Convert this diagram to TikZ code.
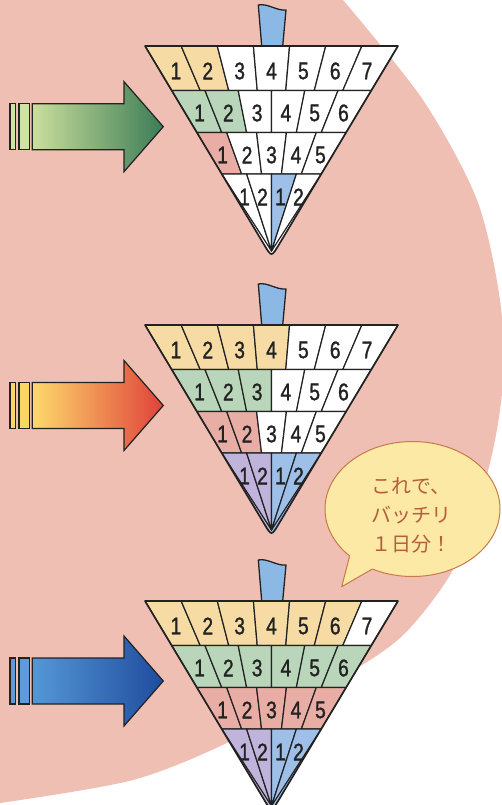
\documentclass[tikz,border=0pt]{standalone}
\usepackage{fontspec}
\usepackage{tikz}
\usetikzlibrary{positioning,shapes.geometric}
\newfontfamily\digitfont[FakeStretch=0.8, FakeBold=1.2]{Liberation Sans}
\newfontfamily\jpfont{Noto Sans CJK JP}
\definecolor{bgpink}{HTML}{EFBFB3}
\definecolor{inkgray}{HTML}{222222}
\definecolor{spinyellow}{HTML}{F7DBA4}
\definecolor{spingreen}{HTML}{B9D5BA}
\definecolor{spinpink}{HTML}{E8ADA4}
\definecolor{spinpurple}{HTML}{C0B3DC}
\definecolor{spinblue}{HTML}{9DBFE8}
\definecolor{stemblue}{HTML}{8CB8E6}
\definecolor{bubblefill}{HTML}{FCE9A6}
\definecolor{bubbleline}{HTML}{C8794C}
\definecolor{bubbleink}{HTML}{B45E3C}
\definecolor{greenlight}{HTML}{CADF9C}
\definecolor{greendark}{HTML}{3C7C56}
\definecolor{greenstripe}{HTML}{CFE4A2}
\definecolor{warmlight}{HTML}{FDD96C}
\definecolor{warmdark}{HTML}{E0423A}
\definecolor{warmstripe}{HTML}{F8D862}
\definecolor{bluelight}{HTML}{5597D6}
\definecolor{bluedark}{HTML}{1F4C9E}
\definecolor{bluestripe}{HTML}{5C9CDA}

\tikzset{
  cell/.style={draw=inkgray, line width=1.2pt, line join=round},
  rim/.style={draw=inkgray, line width=1.7pt, line join=round},
  num/.style={font=\digitfont\fontsize{24}{24}\selectfont, text=inkgray, inner sep=0pt},
  stem/.style={fill=stemblue, draw=inkgray, line width=1.3pt, line join=round},
  arrowrim/.style={draw=inkgray, line width=1.2pt},
  bubble/.style={ellipse, fill=bubblefill, draw=bubbleline, line width=1pt,
    minimum width=175pt, minimum height=135pt, inner sep=0pt},
}

% #1 name, #2 top y, #3-#5 filled cells in rows 1-3, #6-#9 colours of row 4
\newcommand{\spinner}[9]{%
  \begin{scope}[shift={(271.5,#2)}]
    \filldraw[stem] (-13.2,-41) .. controls (-4,-43) and (5,-35) .. (14.5,-36) -- (11.2,0) -- (-9.8,0) -- cycle;
    \begin{scope}
      \clip (-126.5,0) -- (-7.2,199) .. controls (0,211) .. (7.2,199) -- (126.5,0) -- cycle;
      \foreach \ncell/\ytop/\ybot/\nfill/\fcol/\ynum in
        {7/0/44.5/#3/spinyellow/25, 6/44.5/86.5/#4/spingreen/67, 5/86.5/128/#5/spinpink/109}{
        \pgfmathsetmacro\xt{-0.59953*(211-\ytop)}
        \pgfmathsetmacro\xb{-0.59953*(211-\ybot)}
        \pgfmathsetmacro\xn{-0.59953*(211-\ynum)}
        \foreach \k in {1,...,\ncell}{
          \ifnum\k>\nfill\relax\def\fc{white}\else\def\fc{\fcol}\fi
          \filldraw[cell, fill=\fc] ({\xt*(1-2*(\k-1)/\ncell)},\ytop) -- ({\xt*(1-2*\k/\ncell)},\ytop)
            -- ({\xb*(1-2*\k/\ncell)},\ybot) -- ({\xb*(1-2*(\k-1)/\ncell)},\ybot) -- cycle;
          \node[num] (#1-\ncell-\k) at ({\xn*(1-2*(\k-0.5)/\ncell)},\ynum) {\k};
        }
      }
      \fill[#6] (-130,128) rectangle (0,230);
      \fill[#9] (0,128) rectangle (130,230);
      \foreach \c/\lab [count=\k] in {#6/1, #7/2, #8/1, #9/2}{
        \filldraw[cell, fill=\c] ({-49.76*(1-(\k-1)/2)},128) -- ({-49.76*(1-\k/2)},128) -- (0,205) -- cycle;
        \node[num] (#1-4-\k) at ({-35.97*(1-(\k-0.5)/2)},151) {\lab};
      }
    \end{scope}
    \draw[rim] (-126.5,0) -- (-7.2,199) .. controls (0,211) .. (7.2,199) -- (126.5,0) -- cycle;
  \end{scope}
}

% #1 centre y, #2 left colour, #3 right colour, #4 stripe colour
\newcommand{\pusharrow}[4]{%
  \begin{scope}[shift={(0,#1)}]
    \filldraw[arrowrim, fill=#4] (10,-23) rectangle (15.7,23);
    \filldraw[arrowrim, fill=#4] (19,-23) rectangle (29.3,23);
    \shadedraw[arrowrim, left color=#2, right color=#3] (32.3,-23) -- (124,-23) -- (124,-45)
      -- (163.3,0) -- (124,45) -- (124,23) -- (32.3,23) -- cycle;
  \end{scope}
}

\begin{document}
\begin{tikzpicture}[x=1pt, y=-1pt]
  \useasboundingbox (0,0) rectangle (502,805);
  \begin{scope}
    \clip (0,0) rectangle (502,805);
    \fill[bgpink] (0,0) -- plot[smooth] coordinates {(343,0) (423,100) (477,200) (500,300) (503,380)
      (493,450) (472,525) (447,580) (400,638) (333,683) (233,740) (133,780) (0,803)} -- cycle;
  \end{scope}

  \pusharrow{126.7}{greenlight}{greendark}{greenstripe}
  \pusharrow{405.5}{warmlight}{warmdark}{warmstripe}
  \pusharrow{681}{bluelight}{bluedark}{bluestripe}

  \spinner{top}{46}{2}{2}{1}{white}{white}{spinblue}{white}
  \spinner{mid}{325}{4}{3}{2}{spinpurple}{spinpurple}{spinblue}{spinblue}
  \spinner{low}{601}{6}{6}{5}{spinpurple}{spinpurple}{spinblue}{spinblue}

  \node[bubble] (bubble) at (412.5,509) {};
  \coordinate (tailtip) at (341.7,586.7);
  \fill[bubblefill] (bubble.center) -- (bubble.217) -- (tailtip) -- (bubble.236) -- cycle;
  \draw[bubbleline, line width=1pt, line join=round] (bubble.217) -- (tailtip) -- (bubble.236);
  \node[align=center, text=bubbleink, font=\jpfont\fontsize{20}{29}\selectfont] (saying) at (411,515)
    {これで、\\バッチリ\\１日分！};
\end{tikzpicture}
\end{document}
